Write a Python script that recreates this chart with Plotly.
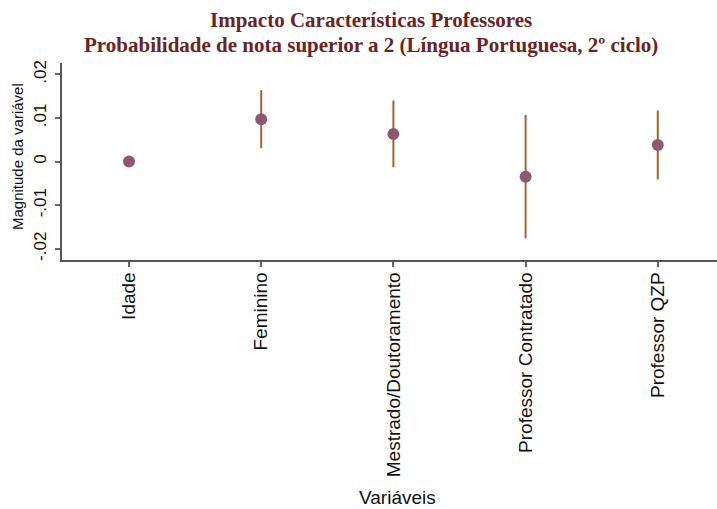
import plotly.graph_objects as go

categories = ["Idade", "Feminino", "Mestrado/Doutoramento", "Professor Contratado", "Professor QZP"]
estimates = [0.0, 0.0097, 0.0063, -0.0035, 0.0038]
ci_upper = [0.0, 0.0164, 0.0140, 0.0107, 0.0117]
ci_lower = [0.0, 0.0031, -0.0013, -0.0176, -0.0041]
y_tick_vals = [-0.02, -0.01, 0.0, 0.01, 0.02]
y_tick_text = ["-.02", "-.01", "0", ".01", ".02"]

xpos = list(range(len(categories)))
err_plus = [u - e for u, e in zip(ci_upper, estimates)]
err_minus = [e - l for e, l in zip(estimates, ci_lower)]

fig = go.Figure()
fig.add_trace(go.Scatter(
    x=xpos, y=estimates, mode="markers",
    marker=dict(size=12, color="#8c5a70", line=dict(width=0)),
    error_y=dict(type="data", symmetric=False, array=err_plus, arrayminus=err_minus,
                 color="#a8622a", thickness=2, width=0),
    showlegend=False,
))

W, H = 717, 509
L, R, T, B = 62, 0, 63, 249
ph = H - T - B

def ypaper(p):
    return (H - B - p) / ph

fig.update_layout(
    width=W, height=H,
    margin=dict(l=L, r=R, t=T, b=B, pad=0),
    paper_bgcolor="white", plot_bgcolor="white",
    font=dict(family="Liberation Sans, Arial, sans-serif", color="#111111"),
    xaxis=dict(
        range=[-0.507, 4.448], tickmode="array", tickvals=xpos, ticktext=categories,
        tickangle=-90, tickfont=dict(size=19, color="#111111"),
        ticks="outside", ticklen=5, tickcolor="#666666", tickwidth=1.5,
        showline=True, linecolor="#555555", linewidth=1.5,
        showgrid=False, zeroline=False, ticklabelstandoff=-2,
    ),
    yaxis=dict(
        range=[-0.02257, 0.02261], tickmode="array", tickvals=y_tick_vals, ticktext=y_tick_text,
        tickangle=-90, tickfont=dict(size=17, color="#111111"),
        ticks="outside", ticklen=5, tickcolor="#666666", tickwidth=1.5,
        showline=True, linecolor="#555555", linewidth=1.5,
        showgrid=False, zeroline=False, ticklabelstandoff=2,
    ),
    annotations=[
        dict(text="<b>Impacto Características Professores</b>", xref="paper", yref="paper",
             x=(371 - L) / (W - L - R), y=ypaper(20), xanchor="center", yanchor="middle",
             showarrow=False, font=dict(family="Liberation Serif, serif", size=21, color="#6b2323")),
        dict(text="<b>Probabilidade de nota superior a 2 (Língua Portuguesa, 2º ciclo)</b>", xref="paper", yref="paper",
             x=(371 - L) / (W - L - R), y=ypaper(45), xanchor="center", yanchor="middle",
             showarrow=False, font=dict(family="Liberation Serif, serif", size=21, color="#6b2323")),
        dict(text="Variáveis", xref="paper", yref="paper",
             x=(397 - L) / (W - L - R), y=ypaper(498), xanchor="center", yanchor="middle",
             showarrow=False, font=dict(size=19, color="#111111")),
        dict(text="Magnitude da variável", xref="paper", yref="paper",
             x=(17 - L) / (W - L - R), y=ypaper(157), xanchor="center", yanchor="middle",
             textangle=-90, showarrow=False, font=dict(size=15, color="#111111")),
    ],
)

fig.write_html("out.html", config={"displayModeBar": False},
               post_script="document.body.style.margin='0';document.body.style.overflow='hidden';")
